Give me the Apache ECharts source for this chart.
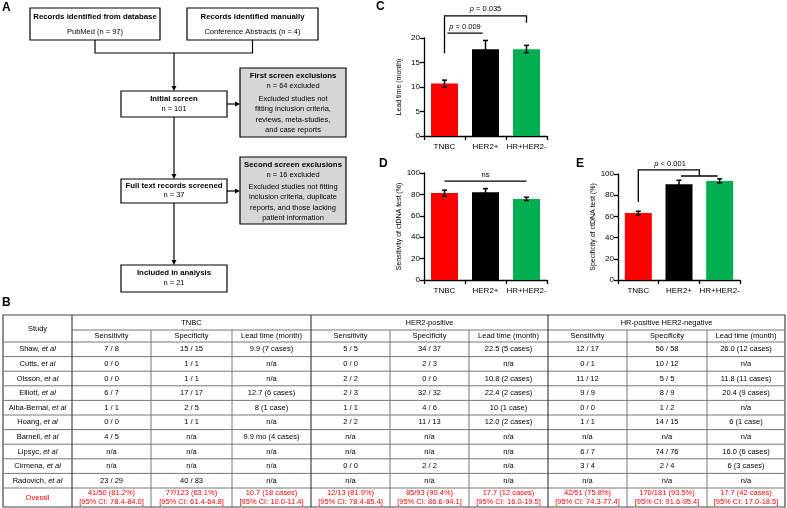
<!DOCTYPE html>
<html>
<head>
<meta charset="utf-8">
<script src="https://cdn.jsdelivr.net/npm/echarts@6/dist/echarts.min.js"></script>
<style>
  html, body { margin: 0; padding: 0; background: #fff; }
  #main { width: 787px; height: 508px; }
</style>
</head>
<body>
<div id="main"></div>
<script>
// ---- bar panels (C, D, E) ----
var groups = ["TNBC", "HER2+", "HR+HER2-"];
var barColors = ["#ff0000", "#000000", "#00b050"];

var leadMean = [10.7, 17.7, 17.7];
var leadLow = [10.0, 16.0, 17.0];
var leadHigh = [11.4, 19.5, 18.5];

var sensMean = [81.2, 81.9, 75.8];
var sensLow = [78.4, 78.4, 74.3];
var sensHigh = [84.0, 85.4, 77.4];

var specMean = [63.1, 90.4, 93.5];
var specLow = [61.4, 86.6, 91.6];
var specHigh = [64.8, 94.1, 95.4];

// ---- table (B) ----
var studies = ["Shaw", "Cutts", "Olsson", "Elliott", "Alba-Bernal", "Hoang", "Barnell", "Lipsyc", "Cirmena", "Radovich"];
var tableGroups = ["TNBC", "HER2-positive", "HR-positive HER2-negative"];
var subHeads = ["Sensitivity", "Specificity", "Lead time (month)"];
var tnbcSens = ["7 / 8", "0 / 0", "0 / 0", "6 / 7", "1 / 1", "0 / 0", "4 / 5", "n/a", "n/a", "23 / 29"];
var tnbcSpec = ["15 / 15", "1 / 1", "1 / 1", "17 / 17", "2 / 5", "1 / 1", "n/a", "n/a", "n/a", "40 / 83"];
var tnbcLead = ["9.9 (7 cases)", "n/a", "n/a", "12.7 (6 cases)", "8 (1 case)", "n/a", "9.9 mo (4 cases)", "n/a", "n/a", "n/a"];
var her2Sens = ["5 / 5", "0 / 0", "2 / 2", "2 / 3", "1 / 1", "2 / 2", "n/a", "n/a", "0 / 0", "n/a"];
var her2Spec = ["34 / 37", "2 / 3", "0 / 0", "32 / 32", "4 / 6", "11 / 13", "n/a", "n/a", "2 / 2", "n/a"];
var her2Lead = ["22.5 (5 cases)", "n/a", "10.8 (2 cases)", "22.4 (2 cases)", "10 (1 case)", "12.0 (2 cases)", "n/a", "n/a", "n/a", "n/a"];
var hrSens = ["12 / 17", "0 / 1", "11 / 12", "9 / 9", "0 / 0", "1 / 1", "n/a", "6 / 7", "3 / 4", "n/a"];
var hrSpec = ["56 / 58", "10 / 12", "5 / 5", "8 / 9", "1 / 2", "14 / 15", "n/a", "74 / 76", "2 / 4", "n/a"];
var hrLead = ["26.0 (12 cases)", "n/a", "11.8 (11 cases)", "20.4 (9 cases)", "n/a", "6 (1 case)", "n/a", "16.0 (6 cases)", "6 (3 cases)", "n/a"];
var overallRow = [
  "41/50 (81.2%)\n[95% CI: 78.4-84.0]", "77/123 (63.1%)\n[95% CI: 61.4-64.8]", "10.7 (18 cases)\n[95% CI: 10.0-11.4]",
  "12/13 (81.9%)\n[95% CI: 78.4-85.4]", "85/93 (90.4%)\n[95% CI: 86.6-94.1]", "17.7 (12 cases)\n[95% CI: 16.0-19.5]",
  "42/51 (75.8%)\n[95% CI: 74.3-77.4]", "170/181 (93.5%)\n[95% CI: 91.6-95.4]", "17.7 (42 cases)\n[95% CI: 17.0-18.5]"
];

var FONT = "Liberation Sans, Arial, sans-serif";

// significance brackets, in (category index, value) units
var leadBrackets = [
  { path: [[0, 16.9], [0, 24.5], [2, 24.5], [2, 23.1]], label: "p = 0.035", at: [1, 25.1] },
  { path: [[0.07, 21.0], [0.93, 21.0]], label: "p = 0.009", at: [0.5, 21.5] }
];
var sensBrackets = [
  { path: [[0, 92.5], [2, 92.5]], label: "ns", at: [1, 94] }
];
var specBrackets = [
  { path: [[0, 73.6], [0, 103.8], [1.5, 103.8], [1.5, 98.1]] },
  { path: [[1.05, 98.1], [1.95, 98.1]], label: "p < 0.001", at: [0.78, 105.5] }
];

function pt(api, cat, val) {
  var i0 = Math.floor(cat), i1 = Math.ceil(cat), f = cat - i0;
  var a = api.coord([i0, val]), b = api.coord([i1, val]);
  return [a[0] + (b[0] - a[0]) * f, a[1]];
}

function bracketRender(specs) {
  return function (params, api) {
    var kids = [];
    specs.forEach(function (b) {
      var pts = b.path.map(function (p) { return pt(api, p[0], p[1]); });
      kids.push({ type: "polyline", shape: { points: pts }, style: { stroke: "#000", lineWidth: 1.3, fill: null } });
      if (b.label) {
        var c = pt(api, b.at[0], b.at[1]);
        var t = b.label.indexOf("p ") === 0 ? "{i|p}" + b.label.slice(1) : b.label;
        kids.push({
          type: "text", x: c[0], y: c[1],
          style: {
            text: t, fill: "#000", fontSize: 7.5, fontFamily: FONT, align: "center", verticalAlign: "bottom",
            rich: { i: { fontStyle: "italic", fontSize: 7.5, fontFamily: FONT } }
          }
        });
      }
    });
    return { type: "group", children: kids };
  };
}

function errRender(params, api) {
  var i = api.value(0);
  var lo = api.coord([i, api.value(1)]);
  var hi = api.coord([i, api.value(2)]);
  var w = 2.5, st = { stroke: "#000", lineWidth: 1.5 };
  return {
    type: "group", children: [
      { type: "line", shape: { x1: lo[0], y1: lo[1], x2: hi[0], y2: hi[1] }, style: st },
      { type: "line", shape: { x1: lo[0] - w, y1: lo[1], x2: lo[0] + w, y2: lo[1] }, style: st },
      { type: "line", shape: { x1: hi[0] - w, y1: hi[1], x2: hi[0] + w, y2: hi[1] }, style: st }
    ]
  };
}

function xAx(gi) {
  return {
    type: "category", gridIndex: gi, data: groups,
    axisLine: { lineStyle: { color: "#000", width: 1.3 } },
    axisTick: { show: true, interval: 0, length: 4, lineStyle: { color: "#000", width: 1.3 } },
    axisLabel: { interval: 0, fontSize: 8, color: "#000", fontFamily: FONT, margin: 7 }
  };
}
function yAx(gi, max, step, name, gap) {
  return {
    type: "value", gridIndex: gi, min: 0, max: max, interval: step,
    name: name, nameLocation: "middle", nameGap: gap,
    nameTextStyle: { fontSize: 7, color: "#000", fontFamily: FONT },
    axisLine: { show: true, lineStyle: { color: "#000", width: 1.3 } },
    axisTick: { show: true, length: 4, lineStyle: { color: "#000", width: 1.3 } },
    axisLabel: { fontSize: 8, color: "#000", fontFamily: FONT, margin: 4 },
    splitLine: { show: false }
  };
}
function bars(gi, vals) {
  return {
    type: "bar", xAxisIndex: gi, yAxisIndex: gi, barWidth: 27,
    data: vals.map(function (v, i) { return { value: v, itemStyle: { color: barColors[i] } }; })
  };
}
function errs(gi, lo, hi) {
  return {
    type: "custom", xAxisIndex: gi, yAxisIndex: gi, z: 5, clip: false,
    encode: { x: 0, y: [1, 2] },
    data: groups.map(function (g, i) { return [i, lo[i], hi[i]]; }),
    renderItem: errRender
  };
}
function brk(gi, specs) {
  return {
    type: "custom", xAxisIndex: gi, yAxisIndex: gi, z: 6, clip: false,
    encode: { x: 0, y: 1 }, data: [[0, 0]], renderItem: bracketRender(specs)
  };
}

// ---- graphic helpers ----
var gfx = [];
function T(x, y, text, o) {
  o = o || {};
  gfx.push({
    type: "text", x: x, y: y, z: 10,
    style: {
      text: text, fill: o.fill || "#000", fontSize: o.size || 7.5, fontWeight: o.bold ? "bold" : "normal",
      fontFamily: FONT, align: o.align || "center", verticalAlign: o.va || "middle",
      lineHeight: o.lh, rich: o.rich
    }
  });
}
function L(pts, o) {
  o = o || {};
  gfx.push({ type: "polyline", shape: { points: pts }, z: 9, style: { stroke: o.c || "#000", lineWidth: o.w || 1.2, fill: null } });
}
function R(x, y, w, h, fill, stroke, lw) {
  gfx.push({ type: "rect", z: 8, shape: { x: x, y: y, width: w, height: h }, style: { fill: fill, stroke: stroke || "#000", lineWidth: lw || 1.2 } });
}
function arrowDown(x, y) {
  gfx.push({ type: "polygon", z: 9, shape: { points: [[x - 2.5, y - 5], [x + 2.5, y - 5], [x, y]] }, style: { fill: "#000" } });
}
function arrowRight(x, y) {
  gfx.push({ type: "polygon", z: 9, shape: { points: [[x - 5, y - 2.5], [x - 5, y + 2.5], [x, y]] }, style: { fill: "#000" } });
}

// panel letters
T(2, 2, "A", { size: 12, bold: true, align: "left", va: "top" });
T(2, 297, "B", { size: 12, bold: true, align: "left", va: "top" });
T(376, 1, "C", { size: 12, bold: true, align: "left", va: "top" });
T(379, 158, "D", { size: 12, bold: true, align: "left", va: "top" });
T(576, 158, "E", { size: 12, bold: true, align: "left", va: "top" });

// ---- flow chart (A) ----
var flowBoxes = [
  { x: 30, y: 8, w: 130, h: 32, fill: "#fff", lines: [["Records identified from database", 1, 9], ["PubMed (n = 97)", 0, 24]] },
  { x: 187, y: 8, w: 131, h: 32, fill: "#fff", lines: [["Records identified manually", 1, 9], ["Conference Abstracts (n = 4)", 0, 24]] },
  { x: 121, y: 91, w: 106, h: 26, fill: "#fff", lines: [["Initial screen", 1, 8], ["n = 101", 0, 18]] },
  { x: 240, y: 68, w: 106, h: 69, fill: "#d6d6d6", lines: [["First screen exclusions", 1, 8], ["n = 64 excluded", 0, 18], ["Excluded studies not", 0, 31], ["fitting inclusion criteria,", 0, 41.3], ["reviews, meta-studies,", 0, 51.6], ["and case reports", 0, 62]] },
  { x: 121, y: 179, w: 106, h: 24, fill: "#fff", lines: [["Full text records screened", 1, 7], ["n = 37", 0, 16]] },
  { x: 240, y: 157, w: 106, h: 67, fill: "#d6d6d6", lines: [["Second screen exclusions", 1, 8], ["n = 16 excluded", 0, 18], ["Excluded studies not fitting", 0, 30], ["inclusion criteria, duplicate", 0, 40.3], ["reports, and those lacking", 0, 50.6], ["patient information", 0, 61]] },
  { x: 121, y: 265, w: 106, h: 27, fill: "#fff", lines: [["Included in analysis", 1, 8], ["n = 21", 0, 18]] }
];
flowBoxes.forEach(function (b) {
  R(b.x, b.y, b.w, b.h, b.fill);
  b.lines.forEach(function (ln) {
    T(b.x + b.w / 2, b.y + ln[2], ln[0], { bold: !!ln[1], size: ln[1] ? 7.8 : 7.5 });
  });
});
L([[95, 40], [95, 53], [252.5, 53], [252.5, 40]]);
L([[174, 53], [174, 89]]); arrowDown(174, 91);
L([[174, 117], [174, 177]]); arrowDown(174, 179);
L([[174, 203], [174, 263]]); arrowDown(174, 265);
L([[227, 104], [238, 104]]); arrowRight(240, 104);
L([[227, 191], [238, 191]]); arrowRight(240, 191);

// ---- table (B) ----
var colX = [3, 72, 151, 232, 311, 390, 469, 548, 627, 707, 785];
var rowY = [315, 330, 342];
for (var r = 1; r <= studies.length; r++) rowY.push(342 + r * 14.6);
rowY.push(507);
var tableCols = [tnbcSens, tnbcSpec, tnbcLead, her2Sens, her2Spec, her2Lead, hrSens, hrSpec, hrLead];
var bottom = rowY[rowY.length - 1];

gfx.push({ type: "rect", z: 7, shape: { x: colX[0], y: rowY[0], width: colX[10] - colX[0], height: bottom - rowY[0] }, style: { fill: null, stroke: "#444", lineWidth: 1.2 } });
L([[colX[1], rowY[1]], [colX[10], rowY[1]]], { c: "#777", w: 1 });
for (var k = 2; k < rowY.length - 1; k++) L([[colX[0], rowY[k]], [colX[10], rowY[k]]], { c: "#777", w: 1 });
for (var c = 1; c < colX.length - 1; c++) {
  var major = (c - 1) % 3 === 0;
  L([[colX[c], major ? rowY[0] : rowY[1]], [colX[c], bottom]], { c: major ? "#444" : "#777", w: major ? 1.2 : 1 });
}
function cx(c) { return (colX[c] + colX[c + 1]) / 2; }
function cy(r) { return (rowY[r] + rowY[r + 1]) / 2; }
var TS = 7.5;
T(cx(0), (rowY[0] + rowY[2]) / 2, "Study", { size: TS });
tableGroups.forEach(function (g, i) {
  T((colX[1 + i * 3] + colX[4 + i * 3]) / 2, cy(0), g, { size: TS });
  subHeads.forEach(function (s, j) { T(cx(1 + i * 3 + j), cy(1), s, { size: TS }); });
});
studies.forEach(function (s, i) {
  T(cx(0), cy(2 + i), s + ", {i|et al}", { size: TS, rich: { i: { fontStyle: "italic", fontSize: TS, fontFamily: FONT } } });
  tableCols.forEach(function (col, j) { T(cx(1 + j), cy(2 + i), col[i], { size: TS }); });
});
var lastR = rowY.length - 2;
T(cx(0), cy(lastR), "Overall", { size: TS, fill: "#ff0000" });
overallRow.forEach(function (v, j) { T(cx(1 + j), cy(lastR), v, { size: TS, fill: "#ff0000", lh: 8.5 }); });

var chart = echarts.init(document.getElementById("main"));
chart.setOption({
  animation: false,
  backgroundColor: "#fff",
  textStyle: { fontFamily: FONT },
  grid: [
    { left: 424, top: 38, width: 123, height: 98 },
    { left: 424, top: 173, width: 123, height: 107 },
    { left: 618, top: 174, width: 122, height: 106 }
  ],
  xAxis: [xAx(0), xAx(1), xAx(2)],
  yAxis: [
    yAx(0, 20, 5, "Lead time (month)", 21),
    yAx(1, 100, 20, "Sensitivity of ctDNA test (%)", 19),
    yAx(2, 100, 20, "Specificity of ctDNA test (%)", 19)
  ],
  series: [
    bars(0, leadMean), errs(0, leadLow, leadHigh), brk(0, leadBrackets),
    bars(1, sensMean), errs(1, sensLow, sensHigh), brk(1, sensBrackets),
    bars(2, specMean), errs(2, specLow, specHigh), brk(2, specBrackets)
  ],
  graphic: gfx
});
</script>
</body>
</html>
